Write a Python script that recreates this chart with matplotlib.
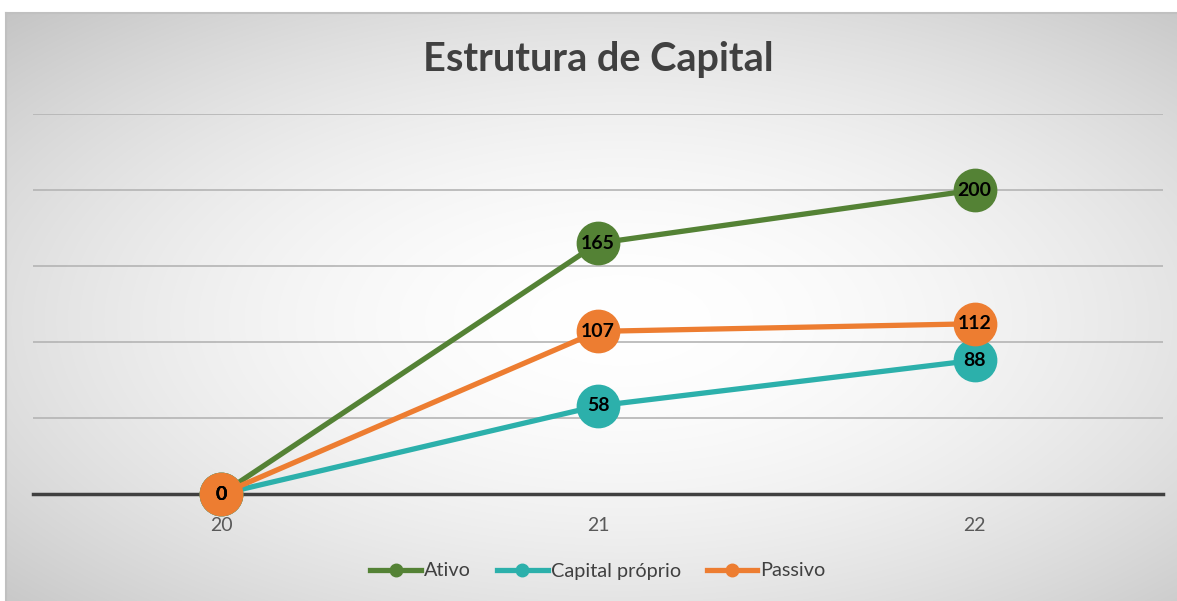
import numpy as np
import matplotlib
matplotlib.use("Agg")
import matplotlib.pyplot as plt
from matplotlib.lines import Line2D

categories = ["20", "21", "22"]
ativo = [0, 165, 200]
capital_proprio = [0, 58, 88]
passivo = [0, 107, 112]
series_names = ["Ativo", "Capital próprio", "Passivo"]
colors = ["#548235", "#2CB0AB", "#ED7D31"]
title = "Estrutura de Capital"

W, H = 1177, 601
fig = plt.figure(figsize=(W / 100, H / 100), dpi=100)
fig.patch.set_facecolor("white")

# background radial gradient for chart area
bg = fig.add_axes([6 / W, 0, 1 - 6 / W, (H - 13) / H])
bg.set_axis_off()
yy, xx = np.mgrid[13:H, 6:W]
cx, cy = 620, 320
t = np.sqrt(((xx - cx) / 620.0) ** 2 + ((yy - cy) / 310.0) ** 2)
v = 1 - 0.23 * np.clip(t / 1.4, 0, 1.2) ** 1.8
img = np.dstack([v, v, v])
bg.imshow(img, aspect="auto", extent=[0, 1, 0, 1], origin="upper", interpolation="bilinear")
bg.set_xlim(0, 1)
bg.set_ylim(0, 1)
bg.plot([0, 1], [1, 1], color="#c0c0c0", lw=1.5, transform=bg.transAxes, clip_on=False)
bg.plot([0, 0], [0, 1], color="#c0c0c0", lw=1.5, transform=bg.transAxes, clip_on=False)

font = "Lato"
ax = fig.add_axes([33 / W, 107 / H, (1163 - 33) / W, (494 - 114) / H])
ax.set_facecolor("none")
x = np.arange(len(categories))
ax.set_xlim(-0.5, len(categories) - 0.5)
ax.set_ylim(0, 250)
ax.set_yticks([0, 50, 100, 150, 200, 250])
ax.yaxis.grid(True, color="#b4b4b4", lw=1.2)
ax.set_axisbelow(True)
for s in ["top", "right", "left"]:
    ax.spines[s].set_visible(False)
ax.spines["bottom"].set_color("#404040")
ax.spines["bottom"].set_linewidth(2.5)
ax.spines["bottom"].set_zorder(1.5)
ax.tick_params(axis="y", left=False, labelleft=False)
ax.tick_params(axis="x", bottom=False, pad=13)
ax.set_xticks(x)
ax.set_xticklabels(categories, fontsize=14, color="#595959", fontfamily=font)

for vals, name, c in zip([ativo, capital_proprio, passivo], series_names, colors):
    ax.plot(x, vals, color=c, lw=3.8, marker="o", markersize=30.5, markerfacecolor=c,
            markeredgecolor=c, clip_on=False, zorder=3, solid_capstyle="round")
    for xi, vi in zip(x, vals):
        ax.text(xi, vi, str(vi), ha="center", va="center", fontsize=14, fontweight="bold",
                color="black", fontfamily=font, zorder=4, clip_on=False)

fig.text(598 / W, 1 - 60 / H, title, ha="center", va="center", fontsize=28.5,
         fontweight="bold", color="#404040", fontfamily=font)

handles = [Line2D([0], [0], color=c, lw=3.8, marker="o", markersize=9) for c in colors]
leg = fig.legend(handles, series_names, loc="center", bbox_to_anchor=(598 / W, 1 - 571 / H),
                 ncol=3, frameon=False, handlelength=2.56, handletextpad=0.15,
                 columnspacing=1.3, prop={"family": font, "size": 14.3})
for txt in leg.get_texts():
    txt.set_color("#404040")

fig.savefig("out.png", dpi=100)
